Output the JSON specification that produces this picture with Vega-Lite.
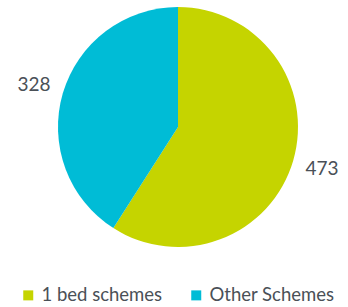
{
  "$schema": "https://vega.github.io/schema/vega-lite/v6.json",
  "width": 340,
  "height": 254,
  "padding": {"left": 8, "right": 0, "top": 0, "bottom": 0},
  "autosize": {"type": "pad"},
  "background": "white",
  "config": {"view": {"stroke": null}, "font": "Lato"},
  "data": {"values": [
    {"category": "1 bed schemes", "value": 473, "order": 1},
    {"category": "Other Schemes", "value": 328, "order": 2}
  ]},
  "encoding": {
    "theta": {"field": "value", "type": "quantitative", "stack": true},
    "order": {"field": "order", "type": "quantitative"},
    "color": {
      "field": "category", "type": "nominal",
      "scale": {"domain": ["1 bed schemes", "Other Schemes"], "range": ["#c5d400", "#00bcd6"]},
      "legend": {
        "title": null, "orient": "bottom", "direction": "horizontal",
        "symbolType": "square", "symbolSize": 100, "symbolStrokeWidth": 0,
        "labelFontSize": 18.5, "labelColor": "#4a5057", "labelFont": "Lato",
        "columnPadding": 24, "offset": 21, "padding": 11, "labelOffset": 4, "labelLimit": 300
      }
    }
  },
  "layer": [
    {"mark": {"type": "arc", "outerRadius": 120}},
    {
      "mark": {"type": "text", "radius": 150, "fontSize": 19, "color": "#4a5057", "font": "Lato"},
      "encoding": {"text": {"field": "value", "type": "quantitative"}, "color": {"value": "#4a5057"}}
    }
  ]
}
